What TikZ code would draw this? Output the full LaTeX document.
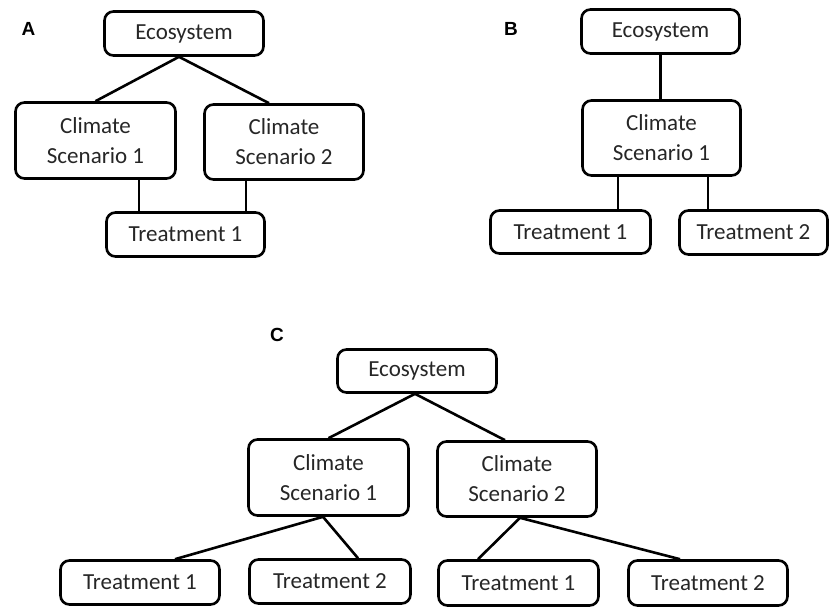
\documentclass[tikz,border=0pt]{standalone}
\usepackage{fontspec}
\setmainfont{Carlito}
\newfontfamily\labfont{Liberation Sans}
\usetikzlibrary{calc}
\begin{document}
\begin{tikzpicture}[x=1pt,y=-1pt,
  box/.style={draw, line width=2.6pt, rounded corners=9pt, inner sep=0pt, align=center,
    font=\fontsize{23}{30}\selectfont, text=black!85},
  conn/.style={line width=2.6pt},
  panel/.style={font=\labfont\bfseries\fontsize{19}{22}\selectfont}]
\useasboundingbox (0,0) rectangle (831,608);

% ---------------- Panel A ----------------
\node[panel] (labA) at (28.5,29) {A};
\node[box, minimum width=159pt, minimum height=44pt] (aEco) at (184,33.5) {Ecosystem};
\node[box, minimum width=160pt, minimum height=76pt] (aCS1) at (95.5,140.5) {Climate\\Scenario 1};
\node[box, minimum width=159pt, minimum height=75pt] (aCS2) at (284,142) {Climate\\Scenario 2};
\node[box, minimum width=158pt, minimum height=44pt] (aT1) at (185.5,234.5) {Treatment 1};
\coordinate (aE) at ([xshift=-5pt]aEco.south);
\coordinate (aC2t) at ([xshift=-15pt]aCS2.north);
\draw[conn] (aCS1.north) -- (aE) -- (aC2t);
\coordinate (aC1b) at ([xshift=43.5pt]aCS1.south);
\coordinate (aC2b) at ([xshift=-38pt]aCS2.south);
\draw[conn] (aC1b) -- (aC1b |- aT1.north);
\draw[conn] (aC2b) -- (aC2b |- aT1.north);

% ---------------- Panel B ----------------
\node[panel] (labB) at (511,29) {B};
\node[box, minimum width=158pt, minimum height=44pt] (bEco) at (660.5,31.5) {Ecosystem};
\node[box, minimum width=158pt, minimum height=75pt] (bCS1) at (661.5,138) {Climate\\Scenario 1};
\node[box, minimum width=160pt, minimum height=43pt] (bT1) at (570.5,232) {Treatment 1};
\node[box, minimum width=148pt, minimum height=44pt] (bT2) at (753.5,232.5) {Treatment 2};
\draw[conn] (bEco.south) -- (bEco.south |- bCS1.north);
\coordinate (bC1) at ([xshift=-43.5pt]bCS1.south);
\coordinate (bC2) at ([xshift=46.5pt]bCS1.south);
\draw[conn] (bC1) -- (bC1 |- bT1.north);
\draw[conn] (bC2) -- (bC2 |- bT2.north);

% ---------------- Panel C ----------------
\node[panel] (labC) at (277,335) {C};
\node[box, minimum width=159pt, minimum height=43pt] (cEco) at (417,371) {Ecosystem};
\node[box, minimum width=160pt, minimum height=76pt] (cCS1) at (328.5,477.5) {Climate\\Scenario 1};
\node[box, minimum width=159pt, minimum height=75pt] (cCS2) at (517,479) {Climate\\Scenario 2};
\node[box, minimum width=159pt, minimum height=44pt] (cT1) at (140,582.5) {Treatment 1};
\node[box, minimum width=161pt, minimum height=44pt] (cT2) at (330,581.5) {Treatment 2};
\node[box, minimum width=160pt, minimum height=45pt] (cT3) at (518.5,583) {Treatment 1};
\node[box, minimum width=159pt, minimum height=45pt] (cT4) at (708,583) {Treatment 2};

\coordinate (cE) at ([xshift=-2pt]cEco.south);
\coordinate (cC2t) at ([xshift=-12pt]cCS2.north);
\draw[conn] (cCS1.north) -- (cE) -- (cC2t);
\coordinate (cC1b) at ([xshift=-5.5pt]cCS1.south);
\coordinate (cT1t) at ([xshift=35pt]cT1.north);
\coordinate (cT2t) at ([xshift=28pt]cT2.north);
\draw[conn] (cT1t) -- (cC1b) -- (cT2t);
\coordinate (cC2b) at ([xshift=3pt]cCS2.south);
\coordinate (cT3t) at ([xshift=-40.5pt]cT3.north);
\coordinate (cT4t) at ([xshift=-28pt]cT4.north);
\draw[conn] (cT3t) -- (cC2b) -- (cT4t);
\end{tikzpicture}
\end{document}
